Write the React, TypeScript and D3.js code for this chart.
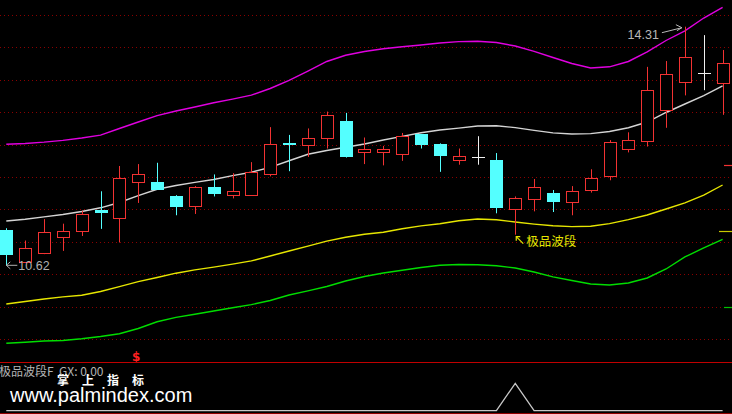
import React from 'react';
import * as d3 from 'd3';

// ---- data ----
const opens = [11.17, 10.68, 10.82, 11.06, 11.15, 11.48, 11.35, 11.91, 11.91, 11.69, 11.55, 11.83, 11.72, 11.71, 12.03, 12.51, 12.48, 12.6, 12.85, 12.37, 12.37, 12.34, 12.65, 12.5, 12.26, 12.3, 12.25, 11.5, 11.65, 11.75, 11.6, 11.79, 12.0, 12.43, 12.55, 13.03, 13.45, 13.6, 13.44];
const highs = [11.2, 11.01, 11.34, 11.27, 11.47, 11.77, 12.16, 12.19, 12.21, 11.71, 11.85, 12.03, 12.05, 12.22, 12.76, 12.64, 12.74, 13.0, 12.98, 12.6, 12.47, 12.67, 12.65, 12.51, 12.43, 12.62, 12.36, 11.69, 11.96, 11.79, 11.85, 12.11, 12.56, 12.68, 13.69, 13.78, 14.31, 14.18, 13.95];
const lows = [10.62, 10.67, 10.8, 10.85, 11.08, 11.19, 10.98, 11.59, 11.79, 11.4, 11.42, 11.69, 11.66, 11.71, 12.0, 12.08, 12.3, 12.43, 12.29, 12.19, 12.17, 12.24, 12.43, 12.07, 12.18, 12.18, 11.43, 11.1, 11.46, 11.45, 11.4, 11.75, 11.94, 12.37, 12.46, 12.75, 13.25, 13.33, 12.95];
const closes = [10.79, 10.89, 11.14, 11.15, 11.42, 11.43, 11.97, 12.03, 11.79, 11.52, 11.83, 11.73, 11.77, 12.06, 12.5, 12.48, 12.6, 12.94, 12.3, 12.42, 12.42, 12.63, 12.48, 12.32, 12.32, 12.3, 11.51, 11.67, 11.83, 11.61, 11.77, 11.98, 12.53, 12.56, 13.33, 13.58, 13.84, 13.6, 13.75];

const upperBand = [12.495, 12.508, 12.528, 12.555, 12.592, 12.637, 12.739, 12.839, 12.938, 13.009, 13.071, 13.136, 13.193, 13.253, 13.356, 13.48, 13.626, 13.773, 13.869, 13.927, 13.97, 14.0, 14.028, 14.058, 14.079, 14.086, 14.066, 14.012, 13.93, 13.835, 13.742, 13.673, 13.691, 13.773, 13.92, 14.097, 14.247, 14.444, 14.609];
const midLine = [11.312, 11.338, 11.375, 11.412, 11.458, 11.515, 11.597, 11.702, 11.801, 11.859, 11.907, 11.952, 12.011, 12.063, 12.14, 12.241, 12.341, 12.4, 12.449, 12.5, 12.562, 12.617, 12.674, 12.716, 12.745, 12.778, 12.781, 12.753, 12.71, 12.671, 12.654, 12.66, 12.693, 12.75, 12.839, 12.986, 13.117, 13.248, 13.395];
const lowerBand = [10.031, 10.068, 10.108, 10.14, 10.166, 10.224, 10.298, 10.375, 10.44, 10.506, 10.558, 10.599, 10.645, 10.696, 10.771, 10.849, 10.923, 11.0, 11.06, 11.106, 11.137, 11.191, 11.237, 11.27, 11.315, 11.342, 11.33, 11.296, 11.264, 11.237, 11.224, 11.231, 11.271, 11.332, 11.404, 11.497, 11.591, 11.71, 11.867];
const bottomBand = [9.424, 9.441, 9.46, 9.467, 9.494, 9.528, 9.571, 9.653, 9.756, 9.825, 9.873, 9.923, 9.972, 10.02, 10.085, 10.17, 10.234, 10.301, 10.386, 10.455, 10.509, 10.552, 10.594, 10.628, 10.639, 10.636, 10.62, 10.586, 10.525, 10.45, 10.393, 10.339, 10.324, 10.355, 10.432, 10.571, 10.756, 10.895, 11.029];

const signal = [0, 0, 0, 0, 0, 0, 0, 0, 0, 0, 0, 0, 0, 0, 0, 0, 0, 0, 0, 0, 0, 0, 0, 0, 0, 0, 0, 1, 0, 0, 0, 0, 0, 0, 0, 0, 0, 0, 0];
const sellIndex = [7];

const gridPrices = [14.49, 13.99, 13.49, 12.99, 12.49, 11.99, 11.49, 10.99, 10.49, 9.99, 9.49];
const rightMarkPrices = [12.18, 11.15, 9.98];

const signalText = '极品波段';
const footerLabel = '极品波段F  GX: 0.00';
const brandText = ['掌', '上', '指', '标'];
const siteText = 'www.palmindex.com';

const W = 732;
const H = 414;

const RED = '#f23232';
const CYAN = '#54ffff';

export default function App() {
  const n = opens.length;
  const x = d3.scaleLinear().domain([0, n - 1]).range([6.3, 722.6]);
  const y = d3.scaleLinear().domain([10.62, 14.31]).range([265.8, 26.7]);
  const ySig = d3.scaleLinear().domain([0, 1]).range([410.7, 383.3]);

  const line = d3
    .line<number>()
    .x((_, i) => x(i))
    .y((d) => y(d));
  const sigLine = d3
    .line<number>()
    .x((_, i) => x(i))
    .y((d) => ySig(d));

  const hiIdx = d3.maxIndex(highs);
  const loIdx = d3.minIndex(lows);
  const sigIdx = signal.indexOf(1);

  const hx = x(hiIdx);
  const hy = y(highs[hiIdx]);
  const lx = x(loIdx);
  const ly = y(lows[loIdx]);
  const sx = x(sigIdx);
  const sy = y(lows[sigIdx]);

  const candles = opens.map((o, i) => {
    const c = closes[i];
    const h = highs[i];
    const l = lows[i];
    const cx = Math.round(x(i));
    const wx = cx + 0.5;
    const yo = y(o);
    const yc = y(c);
    const yh = y(h);
    const yl = y(l);
    const top = Math.min(yo, yc);
    const bot = Math.max(yo, yc);
    if (Math.abs(o - c) < 1e-9) {
      const yy = Math.round(yo) + 0.5;
      return (
        <g key={i} stroke="#f0f0f0" strokeWidth={1}>
          <line x1={wx} x2={wx} y1={yh} y2={yl} />
          <line x1={cx - 6} x2={cx + 7} y1={yy} y2={yy} />
        </g>
      );
    }
    if (c > o) {
      const rt = Math.round(top) + 0.5;
      const rb = Math.max(Math.round(bot) + 0.5, rt + 2);
      return (
        <g key={i} stroke={RED} strokeWidth={1}>
          <line x1={wx} x2={wx} y1={yh} y2={rt} />
          <line x1={wx} x2={wx} y1={rb} y2={yl} />
          <rect x={cx - 6 + 0.5} y={rt} width={12} height={rb - rt} fill="#000" />
        </g>
      );
    }
    const ft = Math.round(top);
    const fb = Math.max(Math.round(bot), ft + 2);
    return (
      <g key={i}>
        <line x1={wx} x2={wx} y1={yh} y2={yl} stroke={CYAN} strokeWidth={1} />
        <rect x={cx - 6} y={ft} width={13} height={fb - ft} fill={CYAN} />
      </g>
    );
  });

  return (
    <svg
      width={W}
      height={H}
      style={{ position: 'absolute', left: 0, top: 0, display: 'block', background: '#000' }}
    >
      <rect x={0} y={0} width={W} height={H} fill="#000" />
      {/* grid */}
      {gridPrices.map((p) => {
        const gy = Math.round(y(p)) + 0.5;
        return (
          <line key={p} x1={0} x2={W} y1={gy} y2={gy} stroke="#8a0000" strokeWidth={1} strokeDasharray="1 3" />
        );
      })}

      {/* bands */}
      <path d={line(bottomBand) || ''} fill="none" stroke="#00dd00" strokeWidth={1.4} />
      <path d={line(lowerBand) || ''} fill="none" stroke="#e6e600" strokeWidth={1.4} />
      <path d={line(upperBand) || ''} fill="none" stroke="#e000e0" strokeWidth={1.4} />
      <path d={line(midLine) || ''} fill="none" stroke="#d4d4d4" strokeWidth={1.4} />

      {/* right edge marks */}
      {rightMarkPrices.map((p, i) => {
        const colors = [RED, '#c8c800', '#00c000'];
        const my = Math.round(y(p)) + 0.5;
        return <line key={i} x1={i === 1 ? 719 : 724} x2={W} y1={my} y2={my} stroke={colors[i]} strokeWidth={1.2} />;
      })}

      {/* candles */}
      {candles}

      {/* high label */}
      <text x={hx - 26} y={hy + 12} fill="#b8b8b8" fontSize={12.5} fontFamily="Liberation Sans, Arial, sans-serif" textAnchor="end">
        {highs[hiIdx].toFixed(2)}
      </text>
      <g stroke="#b8b8b8" strokeWidth={1} fill="none">
        <path d={`M${hx - 23},${hy + 6} L${hx - 3},${hy + 1}`} />
        <path d={`M${hx - 9},${hy - 2} L${hx - 3},${hy + 1} L${hx - 8},${hy + 4}`} />
      </g>

      {/* low label */}
      <g stroke="#b0b0b0" strokeWidth={1} fill="none">
        <path d={`M${lx},${ly - 0.5} L${lx + 11},${ly - 0.5}`} />
        <path d={`M${lx + 4},${ly - 4} L${lx},${ly - 0.5} L${lx + 4},${ly + 3}`} />
      </g>
      <text x={lx + 12} y={ly + 4} fill="#b0b0b0" fontSize={12.5} fontFamily="Liberation Sans, Arial, sans-serif">
        {lows[loIdx].toFixed(2)}
      </text>

      {/* signal label */}
      <g stroke="#e6e600" strokeWidth={1.2} fill="none">
        <path d={`M${sx + 1},${sy + 2} L${sx + 8},${sy + 9}`} />
        <path d={`M${sx + 1},${sy + 6} L${sx + 1},${sy + 2} L${sx + 5},${sy + 2}`} />
      </g>
      <text x={sx + 11} y={sy + 11} fill="#e6e600" fontSize={12.5} fontFamily="Noto Sans CJK SC, sans-serif">
        {signalText}
      </text>

      {/* sell marker */}
      {sellIndex.map((i) => (
        <text key={i} x={x(i) - 2} y={361} fill="#ff2020" fontSize={12} fontWeight="bold" textAnchor="middle" fontFamily="DejaVu Sans, sans-serif">
          $
        </text>
      ))}

      {/* panel divider */}
      <line x1={0} x2={W} y1={362.5} y2={362.5} stroke="#c00000" strokeWidth={1} />
      <line x1={0} x2={W} y1={413.5} y2={413.5} stroke="#900000" strokeWidth={1} />

      {/* bottom indicator */}
      <path d={sigLine(signal) || ''} fill="none" stroke="#c8c8c8" strokeWidth={1.3} />

      {/* footer texts */}
      <text x={-1} y={376} fill="#b4b4b4" fontSize={12} fontFamily="Noto Sans CJK SC, sans-serif" style={{ whiteSpace: 'pre' }}>
        {footerLabel}
      </text>
      {brandText.map((t, i) => (
        <text key={t} x={57 + i * 25} y={385} fill="#ffffff" fontSize={12} fontWeight="bold" fontFamily="Noto Sans CJK SC, sans-serif">
          {t}
        </text>
      ))}
      <text x={10} y={402} fill="#ffffff" fontSize={20} fontFamily="Liberation Sans, Arial, sans-serif">
        {siteText}
      </text>
    </svg>
  );
}
